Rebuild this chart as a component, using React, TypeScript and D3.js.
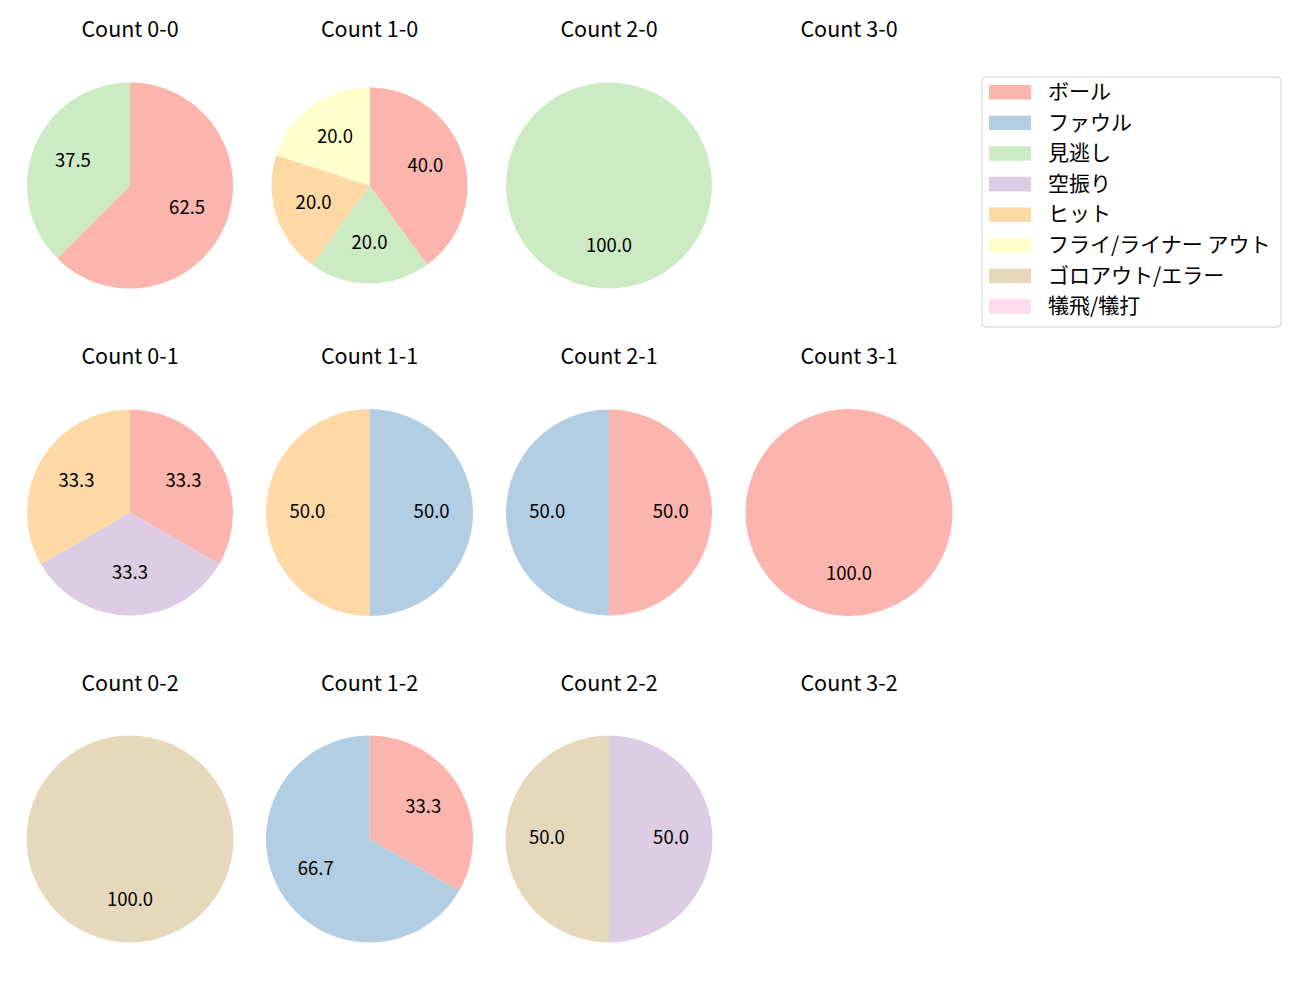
import React from "react";
import * as d3 from "d3";

const categories = ["ボール", "ファウル", "見逃し", "空振り", "ヒット", "フライ/ライナー アウト", "ゴロアウト/エラー", "犠飛/犠打"];
const colors = ["#fbb4ae", "#b3cde3", "#ccebc5", "#decbe4", "#fed9a6", "#ffffcc", "#e5d8bd", "#fddaec"];

const countTitles = [
  "Count 0-0", "Count 1-0", "Count 2-0", "Count 3-0",
  "Count 0-1", "Count 1-1", "Count 2-1", "Count 3-1",
  "Count 0-2", "Count 1-2", "Count 2-2", "Count 3-2",
];

// counts per category, in category order
const countValues: number[][] = [
  [5, 0, 3, 0, 0, 0, 0, 0],
  [2, 0, 1, 0, 1, 1, 0, 0],
  [0, 0, 1, 0, 0, 0, 0, 0],
  [0, 0, 0, 0, 0, 0, 0, 0],
  [1, 0, 0, 1, 1, 0, 0, 0],
  [0, 1, 0, 0, 1, 0, 0, 0],
  [1, 1, 0, 0, 0, 0, 0, 0],
  [1, 0, 0, 0, 0, 0, 0, 0],
  [0, 0, 0, 0, 0, 0, 1, 0],
  [1, 2, 0, 0, 0, 0, 0, 0],
  [0, 0, 0, 1, 0, 0, 1, 0],
  [0, 0, 0, 0, 0, 0, 0, 0],
];

const colX = [130, 369.5, 609, 849];
const rowY = [185.5, 512.5, 839];
const titleY = [36.5, 363.5, 690.5];
const FONT = "'Noto Sans CJK JP', 'Noto Sans', sans-serif";

function Pie({ values, cx, cy, r, title, ty }: { values: number[]; cx: number; cy: number; r: number; title: string; ty: number }) {
  const total = d3.sum(values);
  const items = values.map((v, i) => ({ v, i })).filter((d) => d.v > 0);
  const arcs = d3.pie<{ v: number; i: number }>().sort(null).value((d) => d.v)(items);
  const arc = d3.arc<d3.PieArcDatum<{ v: number; i: number }>>().innerRadius(0).outerRadius(r);
  const lab = d3.arc<d3.PieArcDatum<{ v: number; i: number }>>().innerRadius(r * 0.6).outerRadius(r * 0.6);
  return (
    <g>
      <text x={cx} y={ty} textAnchor="middle" fontSize={21.5} fontFamily={FONT} fill="#000">{title}</text>
      {total > 0 && (
        <g transform={`translate(${cx},${cy})`}>
          {arcs.map((a, k) => (
            <path key={k} d={arc(a) || ""} fill={colors[a.data.i]} />
          ))}
          {arcs.map((a, k) => {
            const [x, y] = lab.centroid(a);
            return (
              <text key={"t" + k} x={x} y={y} dy="0.27em" textAnchor="middle" fontSize={18.5} fontFamily={FONT} fill="#000">
                {((a.data.v / total) * 100).toFixed(1)}
              </text>
            );
          })}
        </g>
      )}
    </g>
  );
}

export default function App() {
  const radii = [103, 98, 103, 103, 103, 103.5, 103, 103.5, 103.5, 103.5, 103.5, 103];
  return (
    <svg width={1300} height={1000} style={{ position: "absolute", left: 0, top: 0, background: "#fff" }}>
      <rect width={1300} height={1000} fill="#fff" />
      {countTitles.map((t, idx) => {
        const c = idx % 4;
        const r = Math.floor(idx / 4);
        return <Pie key={idx} values={countValues[idx]} cx={colX[c]} cy={rowY[r]} r={radii[idx]} title={t} ty={titleY[r]} />;
      })}
      <g>
        <rect x={982} y={77} width={299} height={250} rx={4} fill="#fff" stroke="#d0d0d0" strokeWidth={1} />
        {categories.map((c, i) => (
          <g key={c}>
            <rect x={989} y={85 + i * 30.6} width={42} height={14.5} fill={colors[i]} />
            <text x={1048} y={92 + i * 30.6} dy="0.33em" fontSize={21} fontFamily={FONT} fill="#000">{c}</text>
          </g>
        ))}
      </g>
    </svg>
  );
}
